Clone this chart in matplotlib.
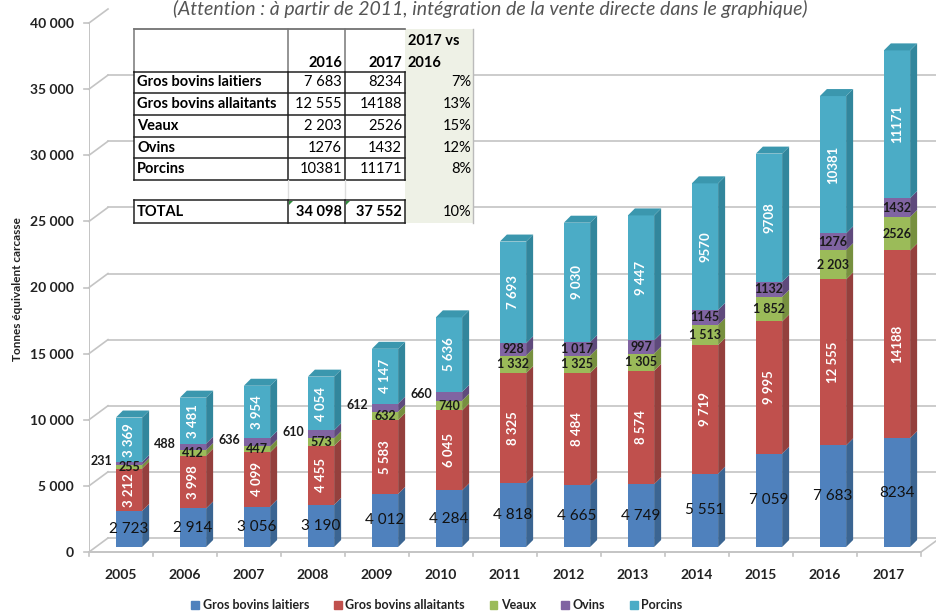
import numpy as np
import matplotlib.pyplot as plt
from matplotlib.patches import Polygon, Rectangle, Patch

plt.rcParams['font.family'] = ['Lato', 'DejaVu Sans']

years = ['2005', '2006', '2007', '2008', '2009', '2010', '2011',
         '2012', '2013', '2014', '2015', '2016', '2017']
laitiers = [2723, 2914, 3056, 3190, 4012, 4284, 4818, 4665, 4749, 5551, 7059, 7683, 8234]
allaitants = [3212, 3998, 4099, 4455, 5583, 6045, 8325, 8484, 8574, 9719, 9995, 12555, 14188]
veaux = [255, 412, 447, 573, 632, 740, 1332, 1325, 1305, 1513, 1852, 2203, 2526]
ovins = [231, 488, 636, 610, 612, 660, 928, 1017, 997, 1145, 1132, 1276, 1432]
porcins = [3369, 3481, 3954, 4054, 4147, 5636, 7693, 9030, 9447, 9570, 9708, 10381, 11171]

# labels as printed on the bars
lab_laitiers = ['2 723', '2 914', '3 056', '3 190', '4 012', '4 284', '4 818',
                '4 665', '4 749', '5 551', '7 059', '7 683', '8234']
lab_allaitants = ['3 212', '3 998', '4 099', '4 455', '5 583', '6 045', '8 325',
                  '8 484', '8 574', '9 719', '9 995', '12 555', '14188']
lab_veaux = ['255', '412', '447', '573', '632', '740', '1 332', '1 325', '1 305',
             '1 513', '1 852', '2 203', '2526']
lab_ovins = ['231', '488', '636', '610', '612', '660', '928', '1 017', '997',
             '1145', '1132', '1276', '1432']
lab_porcins = ['3 369', '3 481', '3 954', '4 054', '4 147', '5 636', '7 693',
               '9 030', '9 447', '9570', '9708', '10381', '11171']

series_names = ['Gros bovins laitiers', 'Gros bovins allaitants', 'Veaux', 'Ovins', 'Porcins']

# table
tab_rows = ['Gros bovins laitiers', 'Gros bovins allaitants', 'Veaux', 'Ovins', 'Porcins']
tab_2016 = ['7 683', '12 555', '2 203', '1276', '10381']
tab_2017 = ['8234', '14188', '2526', '1432', '11171']
tab_pct = ['7%', '13%', '15%', '12%', '8%']
tab_total = ['TOTAL', '34 098', '37 552', '10%']

front = ['#4f81bd', '#c0504d', '#9bbb59', '#8064a2', '#4bacc6']
side = ['#3b6592', '#94403d', '#77903f', '#5f4a7c', '#32869c']
topc = '#3b97ae'

fig = plt.figure(figsize=(9.36, 6.13), dpi=100)
ax = fig.add_axes([89/936, 61/613, 847/936, 529/613])
ax.set_xlim(-0.625, -0.625 + 847/64)
ax.set_ylim(0, 40000)
for s in ax.spines.values():
    s.set_visible(False)

PX = 1/64          # one pixel in x units
PY = 40000/529     # one pixel in y units
DXB, DYB = 19*PX, 14*PY
ZOFF = 5*PY
w = 0.41
ddx, ddy = 7*PX, 7*PY
grid_c = '#c4c4c4'

# back wall grid + axis
xl = -0.625
for v in range(0, 40001, 5000):
    ax.plot([xl - 5*PX, xl], [v, v], color=grid_c, lw=1.2, clip_on=False, zorder=1)
    ax.plot([xl, xl + DXB], [v, v + DYB], color=grid_c, lw=1.2, clip_on=False, zorder=1)
    if v < 40000:
        ax.plot([xl + DXB, 12.375 + DXB], [v + DYB, v + DYB], color=grid_c, lw=1.2,
                clip_on=False, zorder=1)
ax.plot([xl, xl], [0, 40000], color=grid_c, lw=1.4, zorder=1)
ax.plot([xl, 12.375], [0, 0], color=grid_c, lw=1.4, clip_on=False, zorder=1)
ax.plot([12.375, 12.375 + DXB], [0, DYB], color=grid_c, lw=1.2, clip_on=False, zorder=1)
for k in range(14):
    ax.plot([xl + k, xl + k], [0, -4*PY], color=grid_c, lw=1.2, clip_on=False, zorder=1)

x = np.arange(len(years))
data = [laitiers, allaitants, veaux, ovins, porcins]
bottom = np.zeros(len(years))
for k, vals in enumerate(data):
    vals = np.array(vals)
    ax.bar(x, vals, w, bottom=bottom + ZOFF, color=front[k], linewidth=0, zorder=3)
    for i in range(len(x)):
        b = bottom[i] + ZOFF
        t = b + vals[i]
        xr = x[i] + w/2
        ax.add_patch(Polygon([(xr, b), (xr + ddx, b + ddy), (xr + ddx, t + ddy), (xr, t)],
                             closed=True, color=side[k], lw=0, zorder=3))
        if k == len(data) - 1:
            xlft = x[i] - w/2
            ax.add_patch(Polygon([(xlft, t), (xlft + ddx, t + ddy), (xr + ddx, t + ddy), (xr, t)],
                                 closed=True, color=topc, lw=0, zorder=3))
    bottom = bottom + vals

# value labels
b0 = np.zeros(len(years)) + ZOFF
for i in range(len(x)):
    y = b0[i] + laitiers[i]/2
    ax.text(x[i], y, lab_laitiers[i], ha='center', va='center', fontsize=11,
            color='#111111', zorder=4)
b1 = b0 + np.array(laitiers)
for i in range(len(x)):
    ax.text(x[i], b1[i] + allaitants[i]/2, lab_allaitants[i], ha='center', va='center',
            rotation=90, fontsize=9.5, color='white', fontweight='bold', zorder=4)
b2 = b1 + np.array(allaitants)
for i in range(len(x)):
    ax.text(x[i], b2[i] + veaux[i]/2, lab_veaux[i], ha='center', va='center',
            fontsize=9, color='#1a1a1a', fontweight='bold', zorder=4)
b3 = b2 + np.array(veaux)
for i in range(len(x)):
    if i < 6:
        ax.text(x[i] - w/2 - 0.06, b3[i] + ovins[i]/2 + 200, lab_ovins[i], ha='right',
                va='center', fontsize=9, color='#1a1a1a', fontweight='bold', zorder=4)
    else:
        ax.text(x[i], b3[i] + ovins[i]/2, lab_ovins[i], ha='center', va='center',
                fontsize=9, color='#1a1a1a', fontweight='bold', zorder=4)
b4 = b3 + np.array(ovins)
for i in range(len(x)):
    ax.text(x[i], b4[i] + porcins[i]/2, lab_porcins[i], ha='center', va='center',
            rotation=90, fontsize=9.5, color='white', fontweight='bold', zorder=4)

ax.set_xticks(x - 0.13, years)
ax.set_yticks(range(0, 40001, 5000),
              ['0', '5 000', '10 000', '15 000', '20 000', '25 000', '30 000', '35 000', '40 000'])
ax.tick_params(axis='x', length=0, pad=12, labelsize=10, labelcolor='#222222')
ax.tick_params(axis='y', length=0, pad=11, labelsize=10, labelcolor='#222222')
for lb in ax.get_xticklabels() + ax.get_yticklabels():
    lb.set_fontweight('bold')

fig.text(18/936, 1 - 289/613, 'Tonnes équivalent carcasse', rotation=90, ha='center',
         va='center', fontsize=8.5, fontweight='bold', color='#222222')

fig.text(490/936, 1 - 9/613, "(Attention : à partir de 2011, intégration de la vente directe dans le graphique)",
         ha='center', va='center', fontsize=14, style='italic', color='#555555')

handles = [Patch(color=c) for c in front]
fig.legend(handles, series_names, loc='center', bbox_to_anchor=(437/936, 1 - 605/613),
           ncol=5, frameon=False, handlelength=0.6, handleheight=0.6, handletextpad=0.3,
           columnspacing=2.0, prop={'size': 9, 'weight': 'bold'}, labelcolor='#222222')

# inset table in pixel coordinates
tax = fig.add_axes([0, 0, 1, 1])
tax.set_xlim(0, 936)
tax.set_ylim(613, 0)
tax.axis('off')
tax.set_zorder(5)
cx = [134, 288, 345, 405, 473]
ry = [29, 72, 93, 115, 137, 158, 180, 200, 223]
tax.add_patch(Rectangle((cx[0], ry[0]), cx[3] - cx[0], ry[-1] - ry[0], color='white', lw=0))
tax.add_patch(Rectangle((cx[3], ry[0]), cx[4] - cx[3], ry[-1] - ry[0], color='#eef1e6', lw=0))
# header borders
tax.plot([cx[0], cx[3]], [ry[0], ry[0]], color='#666666', lw=1.2)
for c in cx[:3]:
    tax.plot([c, c], [ry[0], ry[1]], color='#777777', lw=1.1)
tax.plot([cx[4], cx[4]], [ry[0], ry[-1]], color='#bbbbbb', lw=1)
# data rows borders
for r in ry[1:7]:
    tax.plot([cx[0], cx[3]], [r, r], color='#222222', lw=1.1)
for c in cx[:4]:
    tax.plot([c, c], [ry[1], ry[6]], color='#222222', lw=1.1)
for c in cx[1:3]:
    tax.plot([c, c], [ry[6], ry[7]], color='#dddddd', lw=1)
for r in ry[7:]:
    tax.plot([cx[0], cx[3]], [r, r], color='#222222', lw=1.1)
for c in cx[:4]:
    tax.plot([c, c], [ry[7], ry[8]], color='#222222', lw=1.1)
# excel error markers
for c in cx[1:3]:
    tax.add_patch(Polygon([(c + 1, ry[7] + 1), (c + 5, ry[7] + 1), (c + 1, ry[7] + 5)],
                          closed=True, color='#2e8b3a', lw=0))

fs = 10.5
tax.text(cx[2] - 3, 63, '2016', ha='right', va='center', fontsize=fs, fontweight='bold')
tax.text(cx[3] - 3, 63, '2017', ha='right', va='center', fontsize=fs, fontweight='bold')
tax.text(cx[3] + 3, 41, '2017 vs', ha='left', va='center', fontsize=fs, fontweight='bold')
tax.text(cx[3] + 3, 63, '2016', ha='left', va='center', fontsize=fs, fontweight='bold')
for j in range(len(tab_rows)):
    yc = (ry[j + 1] + ry[j + 2]) / 2
    tax.text(cx[0] + 3, yc, tab_rows[j], ha='left', va='center', fontsize=fs, fontweight='bold')
    tax.text(cx[2] - 3, yc, tab_2016[j], ha='right', va='center', fontsize=fs)
    tax.text(cx[3] - 3, yc, tab_2017[j], ha='right', va='center', fontsize=fs)
    tax.text(cx[4] - 2, yc, tab_pct[j], ha='right', va='center', fontsize=fs)
yc = (ry[7] + ry[8]) / 2
tax.text(cx[0] + 3, yc, tab_total[0], ha='left', va='center', fontsize=fs, fontweight='bold')
tax.text(cx[2] - 3, yc, tab_total[1], ha='right', va='center', fontsize=fs, fontweight='bold')
tax.text(cx[3] - 3, yc, tab_total[2], ha='right', va='center', fontsize=fs, fontweight='bold')
tax.text(cx[4] - 2, yc, tab_total[3], ha='right', va='center', fontsize=fs)

fig.savefig('out.png', dpi=100)
